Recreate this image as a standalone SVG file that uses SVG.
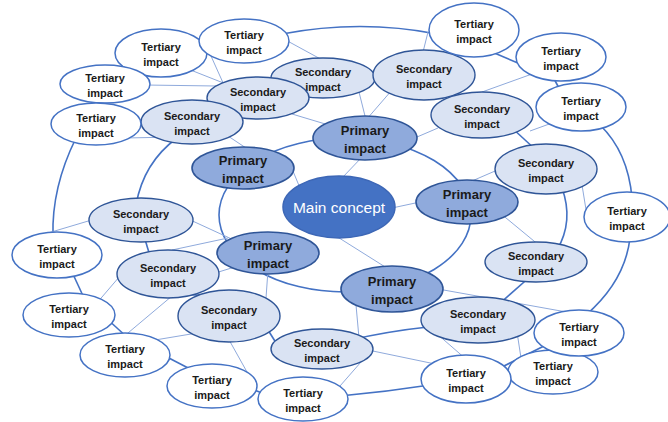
<svg xmlns="http://www.w3.org/2000/svg" width="668" height="422" viewBox="0 0 668 422">
<style>
.ring{fill:none;stroke:#4472c4;stroke-width:1.6}
.thin{fill:none;stroke:#8faadc;stroke-width:1}
.main{fill:#4472c4;stroke:#3d67b6;stroke-width:1.5}
.pri{fill:#8faadc;stroke:#2f5597;stroke-width:1.6}
.sec{fill:#dae3f3;stroke:#2f5597;stroke-width:1.4}
.ter{fill:#ffffff;stroke:#4472c4;stroke-width:1.5}
text{font-family:"Liberation Sans",Arial,sans-serif;text-anchor:middle;fill:#1a1a1a;font-weight:bold}
.ts{font-size:11px}
.tp{font-size:13px}
.tm{font-size:15.5px;font-weight:normal;fill:#ffffff}
</style>
<rect width="668" height="422" fill="#ffffff"/>
<g id="connectors">
  <ellipse class="ring" cx="345" cy="215" rx="126" ry="77"/>
  <path class="ring" d="M177,138 Q143.5,162.5 136,205"/>
  <path class="ring" d="M144,236 L150,256"/>
  <path class="ring" d="M185,294 L207,296"/>
  <path class="ring" d="M268,330 L278,346"/>
  <path class="ring" d="M350,340 Q390,331 428,327"/>
  <path class="ring" d="M498,305 L532,275"/>
  <path class="ring" d="M557,250 Q574,221 562,188"/>
  <path class="ring" d="M536,150 L512,128"/>
  <path class="ring" d="M465,100 L450,85"/>
  <path class="ring" d="M282,34 Q360.5,19 437,34"/>
  <path class="ring" d="M492,52 L525,66"/>
  <path class="ring" d="M552,75 L560,90"/>
  <path class="ring" d="M600,125 Q628,152 632,198"/>
  <path class="ring" d="M630,238 Q625,281 586,315"/>
  <path class="ring" d="M548,344 L500,368"/>
  <path class="ring" d="M430,385 Q385,392 340,396"/>
  <path class="ring" d="M262,393 L252,389"/>
  <path class="ring" d="M165,356 L192,370"/>
  <path class="ring" d="M106,318 L128,338"/>
  <path class="ring" d="M72,272 L84,298"/>
  <path class="ring" d="M53,236 Q51.5,187.5 76,138"/>
  <path class="thin" d="M342,178 L363,156"/>
  <path class="thin" d="M392,208 L420,202"/>
  <path class="thin" d="M336,236 L390,270"/>
  <path class="thin" d="M290,164 L300,188"/>
  <path class="thin" d="M366,120 L359,92"/>
  <path class="thin" d="M366,120 L392,90"/>
  <path class="thin" d="M292,114 L332,126"/>
  <path class="thin" d="M410,140 L438,128"/>
  <path class="thin" d="M225,134 L252,152"/>
  <path class="thin" d="M465,184 L502,168"/>
  <path class="thin" d="M500,213 L540,246"/>
  <path class="thin" d="M438,289 L572,313"/>
  <path class="thin" d="M356,305 L359,338"/>
  <path class="thin" d="M186,218 L236,241"/>
  <path class="thin" d="M172,250 L228,238"/>
  <path class="thin" d="M212,274 L238,266"/>
  <path class="thin" d="M268,270 L266,298"/>
  <path class="thin" d="M188,69 L226,84"/>
  <path class="thin" d="M211,56 L224,85"/>
  <path class="thin" d="M145,85 L216,86"/>
  <path class="thin" d="M125,138 L175,137"/>
  <path class="thin" d="M282,38 L326,62"/>
  <path class="thin" d="M428,32 L422,56"/>
  <path class="thin" d="M482,92 L532,74"/>
  <path class="thin" d="M530,131 L552,123"/>
  <path class="thin" d="M582,185 L588,222"/>
  <path class="thin" d="M517,332 L521,358"/>
  <path class="thin" d="M436,333 L467,360"/>
  <path class="thin" d="M368,350 L440,365"/>
  <path class="thin" d="M340,386 L361,362"/>
  <path class="thin" d="M228,338 L247,372"/>
  <path class="thin" d="M155,340 L197,333"/>
  <path class="thin" d="M172,296 L122,338"/>
  <path class="thin" d="M120,276 L96,304"/>
  <path class="thin" d="M95,219 L48,233"/>
</g>
<g id="main"><ellipse class="main" cx="339" cy="207" rx="56" ry="31"/><text class="tm" x="339" y="213">Main concept</text></g>
<g id="p1"><ellipse class="pri" cx="365" cy="138" rx="52" ry="22"/><text class="tp"><tspan x="365" y="135">Primary</tspan><tspan x="365" y="152.5">impact</tspan></text></g>
<g id="p2"><ellipse class="pri" cx="243" cy="168" rx="51" ry="21"/><text class="tp"><tspan x="243" y="165">Primary</tspan><tspan x="243" y="182.5">impact</tspan></text></g>
<g id="p3"><ellipse class="pri" cx="467" cy="202" rx="51" ry="22"/><text class="tp"><tspan x="467" y="199">Primary</tspan><tspan x="467" y="216.5">impact</tspan></text></g>
<g id="p4"><ellipse class="pri" cx="268" cy="253" rx="51" ry="21"/><text class="tp"><tspan x="268" y="250">Primary</tspan><tspan x="268" y="267.5">impact</tspan></text></g>
<g id="p5"><ellipse class="pri" cx="392" cy="289" rx="51" ry="23"/><text class="tp"><tspan x="392" y="286">Primary</tspan><tspan x="392" y="303.5">impact</tspan></text></g>
<g id="s-c"><ellipse class="sec" cx="323" cy="78" rx="52" ry="20"/><text class="ts"><tspan x="323" y="76">Secondary</tspan><tspan x="323" y="90.5">impact</tspan></text></g>
<g id="s-b"><ellipse class="sec" cx="258" cy="98" rx="51" ry="21"/><text class="ts"><tspan x="258" y="96">Secondary</tspan><tspan x="258" y="110.5">impact</tspan></text></g>
<g id="s-a"><ellipse class="sec" cx="192" cy="122" rx="51" ry="22"/><text class="ts"><tspan x="192" y="120">Secondary</tspan><tspan x="192" y="134.5">impact</tspan></text></g>
<g id="s-d"><ellipse class="sec" cx="424" cy="75" rx="51" ry="25"/><text class="ts"><tspan x="424" y="73">Secondary</tspan><tspan x="424" y="87.5">impact</tspan></text></g>
<g id="s-e"><ellipse class="sec" cx="482" cy="115" rx="51" ry="23"/><text class="ts"><tspan x="482" y="113">Secondary</tspan><tspan x="482" y="127.5">impact</tspan></text></g>
<g id="s-f"><ellipse class="sec" cx="546" cy="169" rx="51" ry="25"/><text class="ts"><tspan x="546" y="167">Secondary</tspan><tspan x="546" y="181.5">impact</tspan></text></g>
<g id="s-g"><ellipse class="sec" cx="536" cy="262" rx="51" ry="20"/><text class="ts"><tspan x="536" y="260">Secondary</tspan><tspan x="536" y="274.5">impact</tspan></text></g>
<g id="s-h"><ellipse class="sec" cx="478" cy="320" rx="57" ry="23"/><text class="ts"><tspan x="478" y="318">Secondary</tspan><tspan x="478" y="332.5">impact</tspan></text></g>
<g id="s-l"><ellipse class="sec" cx="322" cy="349" rx="51" ry="20"/><text class="ts"><tspan x="322" y="347">Secondary</tspan><tspan x="322" y="361.5">impact</tspan></text></g>
<g id="s-i"><ellipse class="sec" cx="229" cy="316" rx="51" ry="26"/><text class="ts"><tspan x="229" y="314">Secondary</tspan><tspan x="229" y="328.5">impact</tspan></text></g>
<g id="s-j"><ellipse class="sec" cx="168" cy="274" rx="51" ry="24"/><text class="ts"><tspan x="168" y="272">Secondary</tspan><tspan x="168" y="286.5">impact</tspan></text></g>
<g id="s-k"><ellipse class="sec" cx="141" cy="220" rx="52" ry="22"/><text class="ts"><tspan x="141" y="218">Secondary</tspan><tspan x="141" y="232.5">impact</tspan></text></g>
<g id="t1"><ellipse class="ter" cx="161" cy="53" rx="46" ry="24"/><text class="ts"><tspan x="161" y="51">Tertiary</tspan><tspan x="161" y="65.5">impact</tspan></text></g>
<g id="t2"><ellipse class="ter" cx="244" cy="41" rx="45" ry="22"/><text class="ts"><tspan x="244" y="39">Tertiary</tspan><tspan x="244" y="53.5">impact</tspan></text></g>
<g id="t3"><ellipse class="ter" cx="105" cy="84" rx="45" ry="19"/><text class="ts"><tspan x="105" y="82">Tertiary</tspan><tspan x="105" y="96.5">impact</tspan></text></g>
<g id="t4"><ellipse class="ter" cx="96" cy="124" rx="45" ry="21"/><text class="ts"><tspan x="96" y="122">Tertiary</tspan><tspan x="96" y="136.5">impact</tspan></text></g>
<g id="t5"><ellipse class="ter" cx="474" cy="30" rx="45" ry="27"/><text class="ts"><tspan x="474" y="28">Tertiary</tspan><tspan x="474" y="42.5">impact</tspan></text></g>
<g id="t6"><ellipse class="ter" cx="561" cy="57" rx="45" ry="24"/><text class="ts"><tspan x="561" y="55">Tertiary</tspan><tspan x="561" y="69.5">impact</tspan></text></g>
<g id="t7"><ellipse class="ter" cx="581" cy="107" rx="45" ry="24"/><text class="ts"><tspan x="581" y="105">Tertiary</tspan><tspan x="581" y="119.5">impact</tspan></text></g>
<g id="t8"><ellipse class="ter" cx="627" cy="217" rx="43" ry="25"/><text class="ts"><tspan x="627" y="215">Tertiary</tspan><tspan x="627" y="229.5">impact</tspan></text></g>
<g id="t10"><ellipse class="ter" cx="553" cy="372" rx="45" ry="22"/><text class="ts"><tspan x="553" y="370">Tertiary</tspan><tspan x="553" y="384.5">impact</tspan></text></g>
<g id="t9"><ellipse class="ter" cx="579" cy="333" rx="45" ry="23"/><text class="ts"><tspan x="579" y="331">Tertiary</tspan><tspan x="579" y="345.5">impact</tspan></text></g>
<g id="t11"><ellipse class="ter" cx="466" cy="379" rx="45" ry="24"/><text class="ts"><tspan x="466" y="377">Tertiary</tspan><tspan x="466" y="391.5">impact</tspan></text></g>
<g id="t12"><ellipse class="ter" cx="303" cy="399" rx="45" ry="22"/><text class="ts"><tspan x="303" y="397">Tertiary</tspan><tspan x="303" y="411.5">impact</tspan></text></g>
<g id="t13"><ellipse class="ter" cx="212" cy="386" rx="45" ry="22"/><text class="ts"><tspan x="212" y="384">Tertiary</tspan><tspan x="212" y="398.5">impact</tspan></text></g>
<g id="t14"><ellipse class="ter" cx="125" cy="355" rx="45" ry="22"/><text class="ts"><tspan x="125" y="353">Tertiary</tspan><tspan x="125" y="367.5">impact</tspan></text></g>
<g id="t15"><ellipse class="ter" cx="69" cy="315" rx="46" ry="22"/><text class="ts"><tspan x="69" y="313">Tertiary</tspan><tspan x="69" y="327.5">impact</tspan></text></g>
<g id="t16"><ellipse class="ter" cx="57" cy="255" rx="45" ry="23"/><text class="ts"><tspan x="57" y="253">Tertiary</tspan><tspan x="57" y="267.5">impact</tspan></text></g>
</svg>
